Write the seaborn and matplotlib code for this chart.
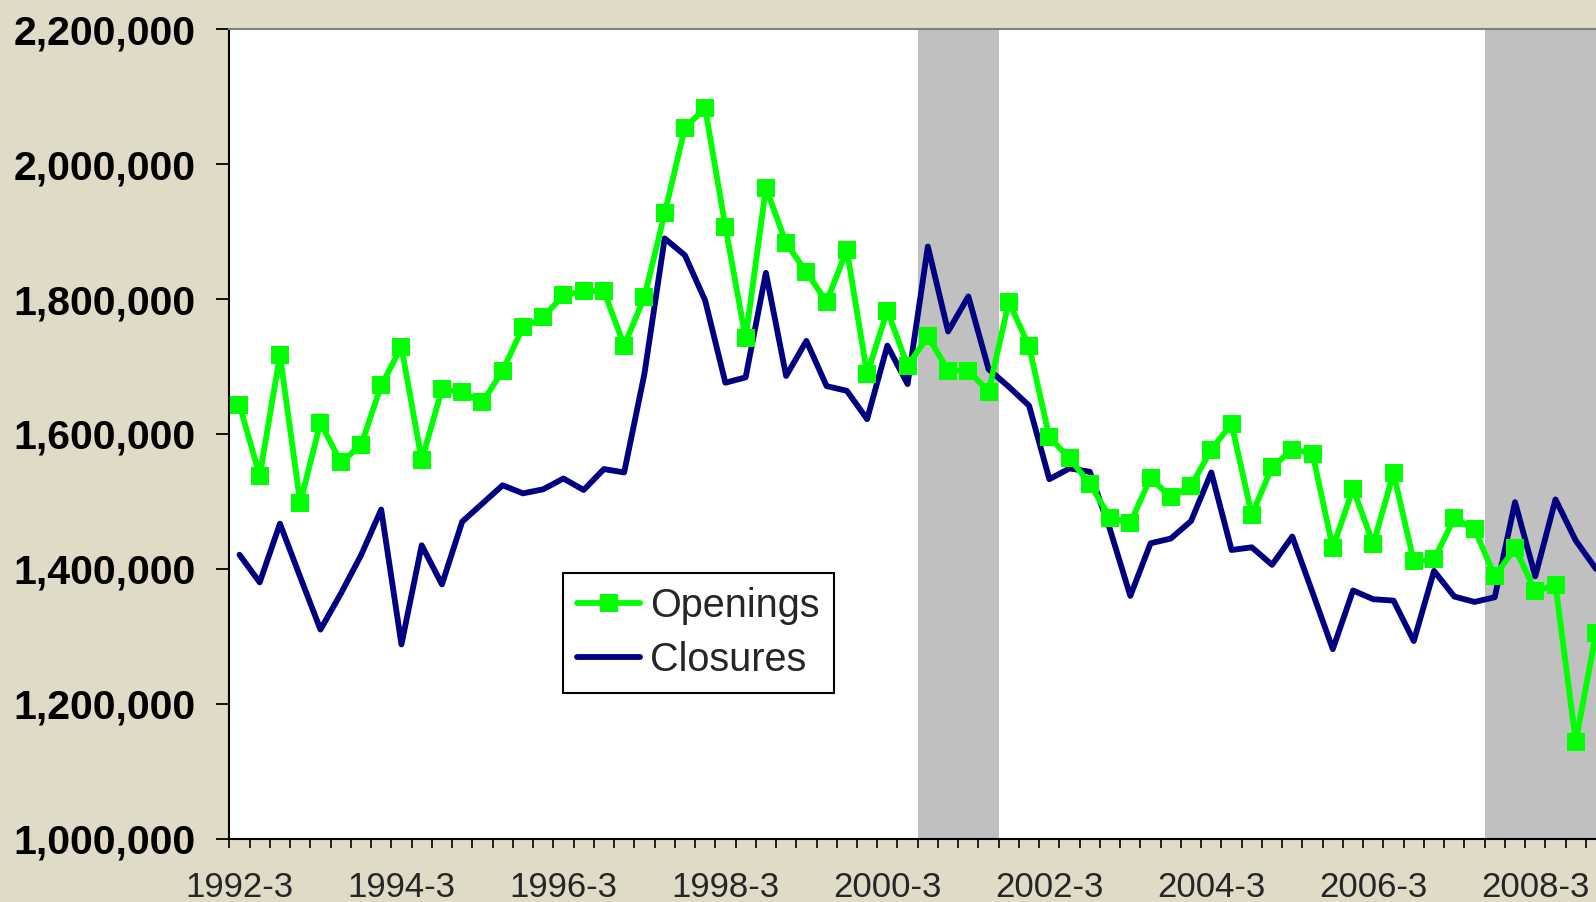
import numpy as np
import pandas as pd
import matplotlib.pyplot as plt
from matplotlib.ticker import FuncFormatter, FixedLocator
from matplotlib.lines import Line2D
import seaborn as sns

# quarterly establishment openings / closures, 1992-3 .. 2009-2
openings = [
    1643, 1538, 1717, 1498, 1617, 1558, 1583, 1672, 1729, 1561,
    1666, 1662, 1647, 1694, 1758, 1773, 1806, 1812, 1812, 1731,
    1803, 1927, 2054, 2083, 1907, 1742, 1965, 1883, 1840, 1796,
    1873, 1689, 1783, 1701, 1745, 1694, 1694, 1663, 1796, 1730,
    1595, 1564, 1526, 1476, 1468, 1535, 1506, 1523, 1577, 1615,
    1480, 1551, 1577, 1571, 1431, 1519, 1437, 1542, 1411, 1414,
    1475, 1459, 1389, 1431, 1367, 1376, 1144, 1305,
]
closures = [
    1421, 1380, 1467, 1388, 1310, 1363, 1420, 1488, 1288, 1435,
    1377, 1470, 1497, 1524, 1512, 1518, 1534, 1517, 1548, 1543,
    1689, 1890, 1865, 1798, 1676, 1684, 1839, 1686, 1738, 1671,
    1664, 1622, 1731, 1674, 1878, 1752, 1804, 1696, 1670, 1642,
    1533, 1549, 1544, 1458, 1360, 1438, 1445, 1471, 1543, 1428,
    1432, 1406, 1448, 1365, 1281, 1368, 1355, 1353, 1293, 1397,
    1359, 1351, 1358, 1499, 1389, 1503, 1442, 1400,
]
quarters = [f"{1992 + (q + 2) // 4}-{(q + 2) % 4 + 1}" for q in range(len(openings))]
tick_labels = ["1992-3", "1994-3", "1996-3", "1998-3", "2000-3",
               "2002-3", "2004-3", "2006-3", "2008-3"]
# recession quarters (first/last category index shaded)
recessions = [(34, 37), (62, 70)]

df = pd.DataFrame({
    "quarter": quarters,
    "Openings": np.array(openings) * 1000,
    "Closures": np.array(closures) * 1000,
})
df["pos"] = np.arange(len(df))

GREEN = "#00FF00"
NAVY = "#000080"

sns.set_style("white")
bg = "#DFDBC6"
fig = plt.figure(figsize=(15.96, 9.02), dpi=100, facecolor=bg)
ax = fig.add_axes([0.1437, 0.0702, 0.8563, 0.8973])
ax.set_facecolor("white")

for a, b in recessions:
    ax.axvspan(a - 0.5, b + 0.5, color="#C0C0C0", lw=0, zorder=0)

sns.lineplot(data=df, x="pos", y="Closures", ax=ax, color=NAVY,
             legend=False)
closure_line = ax.lines[-1]
sns.lineplot(data=df, x="pos", y="Openings", ax=ax, color=GREEN,
             marker="s", legend=False)
opening_line = ax.lines[-1]

closure_line.set_linewidth(4.2)
closure_line.set_zorder(3)
opening_line.set_linewidth(4.2)
opening_line.set_markersize(13)
opening_line.set_markeredgewidth(0)
opening_line.set_markerfacecolor(GREEN)
opening_line.set_zorder(4)

ax.set_xlim(-0.45, 67.0)
ax.set_ylim(1000000, 2200000)
ax.set_xlabel("")
ax.set_ylabel("")

ax.yaxis.set_major_locator(FixedLocator(np.arange(1000000, 2200001, 200000)))
ax.yaxis.set_major_formatter(FuncFormatter(lambda v, p: f"{int(v):,}"))
for t in ax.get_yticklabels():
    t.set_family(["Liberation Sans", "DejaVu Sans"])
    t.set_fontweight("bold")
    t.set_fontsize(29.5)
ax.tick_params(axis="y", direction="out", length=9.5, width=1.3, pad=15,
               left=True, colors="black")

label_pos = [quarters.index(l) for l in tick_labels]
ax.set_xticks(label_pos)
ax.set_xticklabels(tick_labels, family=["Liberation Sans", "DejaVu Sans"],
                   fontsize=25)
ax.tick_params(axis="x", which="major", length=0, pad=23)
ax.set_xticks(np.arange(-0.5, 67.5, 1), minor=True)
ax.tick_params(axis="x", which="minor", direction="out", length=6.5, width=1.2,
               bottom=True, colors="black")

for s in ["left", "bottom"]:
    ax.spines[s].set_color("black")
    ax.spines[s].set_linewidth(1.5)
ax.spines["top"].set_color("#808080")
ax.spines["top"].set_linewidth(1.5)
ax.spines["right"].set_visible(False)

handles = [
    Line2D([], [], color=GREEN, lw=4.2, marker="s", markersize=13,
           markeredgewidth=0),
    Line2D([], [], color=NAVY, lw=4.2),
]
leg = ax.legend(handles, ["Openings", "Closures"], loc="upper left",
                bbox_to_anchor=(0.244, 0.3286), borderaxespad=0,
                prop={"family": "Liberation Sans", "size": 28.5},
                frameon=True, fancybox=False, framealpha=1, edgecolor="black",
                handlelength=1.6, handletextpad=0.25, borderpad=0.36,
                labelspacing=0.4)
leg.get_frame().set_linewidth(1.5)

fig.savefig("out.png", dpi=100, facecolor=bg)
